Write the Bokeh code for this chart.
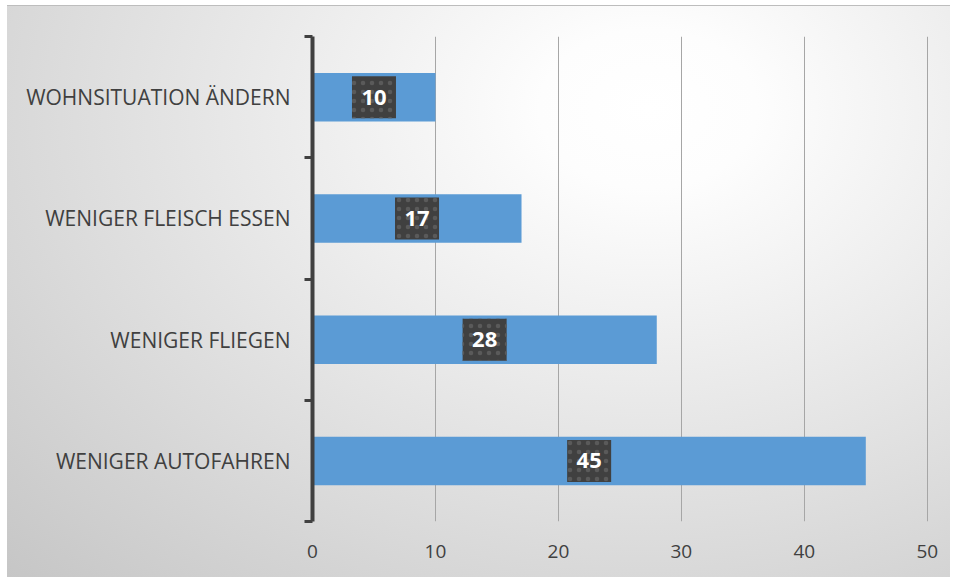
from bokeh.plotting import figure
from bokeh.models import ColumnDataSource, FixedTicker, Range1d
from bokeh.core.properties import value
from bokeh.embed import file_html
from bokeh.resources import INLINE

categories = ["WENIGER AUTOFAHREN", "WENIGER FLIEGEN", "WENIGER FLEISCH ESSEN", "WOHNSITUATION ÄNDERN"]
values = [45, 28, 17, 10]
x_ticks = [0, 10, 20, 30, 40, 50]

pos = [i + 0.5 for i in range(len(categories))]
src = ColumnDataSource(dict(
    y=pos, v=values, mid=[v / 2 for v in values], lab=[str(v) for v in values]))

p = figure(width=943, height=572, output_backend="svg", toolbar_location=None,
           x_range=Range1d(0, 50.1), y_range=Range1d(0, len(categories)),
           min_border_left=305, min_border_right=22, min_border_top=30, min_border_bottom=57)
p.background_fill_color = None
p.border_fill_color = None
p.outline_line_color = None
p.styles = {
    "margin": "5px 0 0 7px",
    "background-image": "radial-gradient(ellipse farthest-corner at 68% 18%, #ffffff 0%, #fdfdfd 12%, #c6c6c6 100%)",
    "border-top": "1px solid #bdbdbd",
}

# bars
p.hbar(y="y", right="v", left=0, height=0.4, source=src, color="#5b9bd5", line_color=None)

# label boxes
p.rect(x="mid", y="y", width=44, height=42, width_units="screen", height_units="screen",
       source=src, fill_color="#404040", line_color=None,
       hatch_pattern="dot", hatch_color="#5a5a5a", hatch_scale=9, hatch_weight=1)
p.text(x="mid", y="y", text="lab", source=src, text_color="white",
       text_font=value("Open Sans"), text_font_style="bold", text_font_size="22px",
       text_align="center", text_baseline="middle")

# x axis
p.xaxis.ticker = FixedTicker(ticks=x_ticks)
p.xaxis.axis_line_color = None
p.xaxis.major_tick_line_color = None
p.xaxis.minor_tick_line_color = None
p.xaxis.major_label_standoff = 17
p.xaxis.major_label_text_font = "Open Sans"
p.xaxis.major_label_text_font_size = "19px"
p.xaxis.major_label_text_color = "#404040"

# y axis: labels at centres, tick marks at category boundaries
p.yaxis.ticker = FixedTicker(ticks=pos, minor_ticks=list(range(len(categories) + 1)))
p.yaxis.major_label_overrides = {pos[i]: categories[i] for i in range(len(categories))}
p.yaxis.major_tick_line_color = None
p.yaxis.major_tick_out = 0
p.yaxis.minor_tick_out = 8
p.yaxis.minor_tick_in = 0
p.yaxis.minor_tick_line_width = 3
p.yaxis.minor_tick_line_color = "#404040"
p.yaxis.axis_line_width = 4
p.yaxis.axis_line_color = "#404040"
p.yaxis.major_label_standoff = 14
p.yaxis.major_label_text_font = "Open Sans"
p.yaxis.major_label_text_font_size = "21px"
p.yaxis.major_label_text_color = "#404040"

# grid
p.ygrid.grid_line_color = None
p.xgrid.grid_line_color = "#a6a6a6"
p.xgrid.grid_line_width = 1

open("out.html", "w").write(file_html(p, INLINE))
